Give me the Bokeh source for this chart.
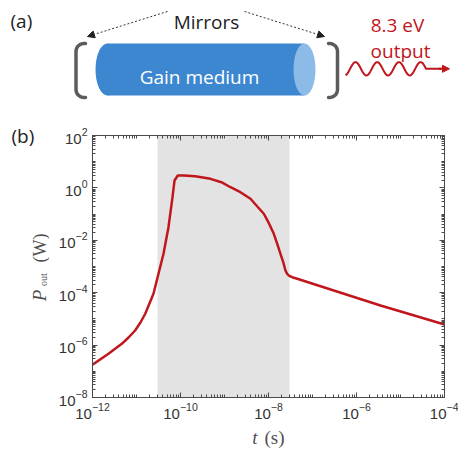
import math
import numpy as np
from bokeh.plotting import figure
from bokeh.models import (Range1d, Arrow, NormalHead, BoxAnnotation, FixedTicker,
                          LogAxis, CustomJSTickFormatter, LogTickFormatter)
from bokeh.layouts import column, row
from bokeh.embed import file_html
from bokeh.resources import INLINE
from bokeh.core.properties import value

# ---------------- data (panel b) ----------------
t_s = [1.0e-12, 2.31e-12, 4.63e-12, 6.58e-12, 9.3e-12, 1.23e-11, 1.58e-11, 2.43e-11,
       3.16e-11, 4.11e-11, 5.33e-11, 6.58e-11, 7.31e-11, 8.69e-11, 1.2e-10, 2.16e-10,
       4.81e-10, 8.5e-10, 1.37e-9, 2.3e-9, 3.9e-9, 5.5e-9, 7.82e-9, 1.02e-8, 1.32e-8,
       1.58e-8, 1.87e-8, 2.16e-8, 2.43e-8, 2.66e-8, 2.89e-8, 3.46e-8, 4.49e-8, 3.51e-6,
       1.0e-4]
p_out_W = [1.8e-7, 4.66e-7, 1.12e-6, 1.95e-6, 3.61e-6, 7.3e-6, 1.57e-5, 9.08e-5,
           5.26e-4, 3.05e-3, 3.16e-2, 0.442, 1.91, 2.97, 2.95, 2.80,
           2.22, 1.65, 1.06, 0.686, 0.384, 0.2, 0.103, 4.5e-2, 1.77e-2,
           7.34e-3, 3.05e-3, 1.46e-3, 7.03e-4, 5.26e-4, 4.53e-4, 3.91e-4, 3.40e-4, 3.24e-5,
           6.11e-6]
gain_window_s = [3.0e-11, 3.0e-8]
x_limits = [1e-12, 1e-4]
y_limits = [1e-8, 1e2]
x_major_ticks = [1e-12, 1e-10, 1e-8, 1e-6, 1e-4]
y_major_ticks = [1e-8, 1e-6, 1e-4, 1e-2, 1e0, 1e2]

# ---------------- text ----------------
label_a = "(a)"
label_b = "(b)"
mirrors_text = "Mirrors"
medium_text = "Gain medium"
output_lines = ["8.3 eV", "output"]
ylabel_parts = ["P", "out", "(W)"]
xlabel_parts = ["t", "(s)"]

RED = "#c0161c"
DARK = "#222222"
AX = "#4a4a4a"
LAB = "#505050"
BLUE = "#3d87d0"
BLUE_END = "#8cbbe8"
FONT = value("Open Sans")
SERIF = value("Liberation Serif")

PAGE_W, PAGE_H = 458, 459
TOP_H = 113          # panel (a) strip
BOT_H = 34           # x-label strip
LEFT_W = 49          # y-label strip
MID_H = PAGE_H - TOP_H - BOT_H

def bare(fig):
    fig.outline_line_color = None
    fig.grid.visible = False
    return fig

# ================= panel (a) =================
p1 = bare(figure(width=PAGE_W, height=TOP_H, x_range=Range1d(0, PAGE_W), y_range=Range1d(TOP_H, 0),
                 output_backend="svg", toolbar_location=None,
                 x_axis_location=None, y_axis_location=None, min_border=0))

p1.text(x=[10], y=[20.7], text=[label_a], text_font=FONT, text_font_size="19px",
        text_color=DARK, text_align="left", text_baseline="alphabetic")
p1.text(x=[206], y=[21], text=[mirrors_text], text_font=FONT, text_font_size="19px",
        text_color=DARK, text_align="center", text_baseline="alphabetic")

for xs, ys, xe, ye in [(167, 11, 87, 36), (244, 11, 324, 36)]:
    p1.add_layout(Arrow(x_start=xs, y_start=ys, x_end=xe, y_end=ye, line_dash="2 2",
                        line_width=1, line_color="#333333",
                        end=NormalHead(size=7, fill_color="#222222", line_color="#222222")))

def bracket(x_end, x_vert, y_top, y_bot, r):
    s = 1 if x_end > x_vert else -1
    xs, ys = [x_end], [y_top]
    for a in np.linspace(0, math.pi / 2, 10):
        xs.append(x_vert + s * r * (1 - math.sin(a)))
        ys.append(y_top + r * (1 - math.cos(a)))
    for a in np.linspace(math.pi / 2, 0, 10):
        xs.append(x_vert + s * r * (1 - math.sin(a)))
        ys.append(y_bot - r * (1 - math.cos(a)))
    xs.append(x_end); ys.append(y_bot)
    return xs, ys

for xe, xv in [(85, 75.5), (328, 337)]:
    bx, by = bracket(xe, xv, 43, 97, 8)
    p1.line(bx, by, line_color="#5c5c5c", line_width=3.5, line_cap="round", line_join="round")

p1.ellipse(x=[107], y=[69], width=24, height=52, fill_color=BLUE, line_color=None)
p1.quad(left=[107], right=[304], top=[43], bottom=[95], fill_color=BLUE, line_color=None)
p1.ellipse(x=[304], y=[69], width=22, height=52, fill_color=BLUE_END, line_color=None)
p1.text(x=[199], y=[76], text=[medium_text], text_font=FONT, text_font_size="19px",
        text_color="white", text_align="center", text_baseline="alphabetic")

p1.text(x=[397, 400], y=[24.5, 50], text=output_lines, text_font=FONT, text_font_size="19px",
        text_color=RED, text_align="center", text_baseline="alphabetic")
wx = np.linspace(345, 425.5, 80)
wy = 68.3 - 6.7 * np.sin(2 * math.pi * (wx - 349.6) / 21.7)
wx = list(wx) + [441]
wy = list(wy) + [68.3]
p1.line(wx, wy, line_color=RED, line_width=2)
p1.add_layout(Arrow(x_start=438, y_start=68.3, x_end=449, y_end=68.3, line_color=RED,
                    line_width=2, end=NormalHead(size=7, fill_color=RED, line_color=RED)))

# ================= left strip: (b) and y label =================
# coordinates: x = page x, y = PAGE_H - page y
p4 = bare(figure(width=LEFT_W, height=MID_H, x_range=Range1d(0, LEFT_W),
                 y_range=Range1d(BOT_H, PAGE_H - TOP_H),
                 output_backend="svg", toolbar_location=None,
                 x_axis_location=None, y_axis_location=None, min_border=0))
p4.text(x=[11], y=[PAGE_H - 135], text=[label_b], text_font=FONT, text_font_size="19px",
        text_color=DARK, text_align="left", text_baseline="alphabetic")
p4.text(x=[38.5], y=[PAGE_H - 295], text=[ylabel_parts[0]], angle=math.pi / 2,
        text_font=SERIF, text_font_style="italic", text_font_size="19px", text_color=LAB,
        text_align="center", text_baseline="middle")
p4.text(x=[42.5], y=[PAGE_H - 279], text=[ylabel_parts[1]], angle=math.pi / 2,
        text_font=SERIF, text_font_size="10px", text_color=LAB,
        text_align="center", text_baseline="middle")
p4.text(x=[39.5], y=[PAGE_H - 247.5], text=[ylabel_parts[2]], angle=math.pi / 2,
        text_font=SERIF, text_font_size="18px", text_color=LAB,
        text_align="center", text_baseline="middle")

# ================= bottom strip: x label =================
p3 = bare(figure(width=PAGE_W, height=BOT_H, x_range=Range1d(0, PAGE_W), y_range=Range1d(0, BOT_H),
                 output_backend="svg", toolbar_location=None,
                 x_axis_location=None, y_axis_location=None, min_border=0))
p3.text(x=[254.5], y=[PAGE_H - 437], text=[xlabel_parts[0]], text_font=SERIF,
        text_font_style="italic", text_font_size="19px", text_color=LAB,
        text_align="center", text_baseline="middle")
p3.text(x=[274], y=[PAGE_H - 437], text=[xlabel_parts[1]], text_font=SERIF,
        text_font_size="19px", text_color=LAB, text_align="center", text_baseline="middle")

# ================= panel (b) =================
p2 = figure(width=PAGE_W - LEFT_W, height=MID_H, x_axis_type="log", y_axis_type="log",
            x_range=Range1d(*x_limits), y_range=Range1d(*y_limits),
            output_backend="svg", toolbar_location=None,
            min_border_left=92 - LEFT_W, min_border_right=PAGE_W - 444,
            min_border_top=135 - TOP_H, min_border_bottom=(PAGE_H - BOT_H) - 397)
p2.grid.visible = False
p2.outline_line_color = AX

x_minor = [m * 10.0 ** k for k in range(-12, -4) for m in range(1, 10)]
y_minor = [m * 10.0 ** k for k in range(-8, 2) for m in range(1, 10)]

def style_axis(ax):
    ax.axis_line_color = AX
    ax.major_tick_line_color = AX
    ax.minor_tick_line_color = AX
    ax.major_tick_in = 5
    ax.major_tick_out = 0
    ax.minor_tick_in = 3
    ax.minor_tick_out = 0
    ax.major_label_text_font = "Liberation Sans"
    ax.major_label_text_font_size = "15px"
    ax.major_label_text_color = "#333333"

p2.xaxis.ticker = FixedTicker(ticks=x_major_ticks, minor_ticks=x_minor)
p2.yaxis.ticker = FixedTicker(ticks=y_major_ticks, minor_ticks=y_minor)
p2.xaxis.formatter = LogTickFormatter()
p2.yaxis.formatter = LogTickFormatter()
style_axis(p2.xaxis[0])
style_axis(p2.yaxis[0])

blank = CustomJSTickFormatter(code="return ''")
ax_r = LogAxis(ticker=FixedTicker(ticks=y_major_ticks, minor_ticks=y_minor), formatter=blank)
ax_t = LogAxis(ticker=FixedTicker(ticks=x_major_ticks, minor_ticks=x_minor), formatter=blank)
for ax in (ax_r, ax_t):
    style_axis(ax)
    ax.major_label_text_font_size = "0px"
    ax.major_label_standoff = 0
p2.add_layout(ax_r, "right")
p2.add_layout(ax_t, "above")

p2.add_layout(BoxAnnotation(left=gain_window_s[0], right=gain_window_s[1],
                            fill_color="#e3e3e3", fill_alpha=1.0, line_color=None,
                            level="underlay"))
p2.line(t_s, p_out_W, line_color=RED, line_width=2.5)

layout = column(p1, row(p4, column(p2)), p3)
open("out.html", "w").write(file_html(layout, INLINE))
